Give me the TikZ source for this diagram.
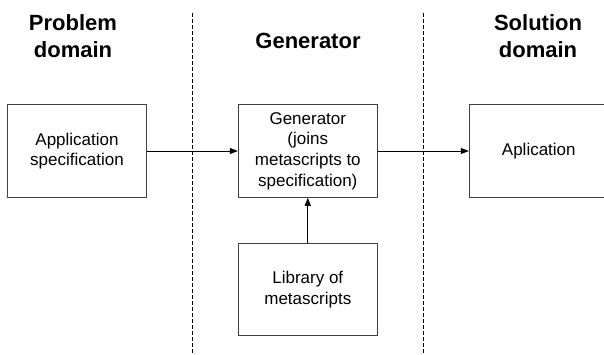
\documentclass[tikz,border=0pt]{standalone}
\usepackage{fontspec}
\setmainfont{Liberation Sans}
\usetikzlibrary{arrows.meta}

\begin{document}
\begin{tikzpicture}[x=1pt, y=-1pt,
	box/.style={draw=black!75, line width=1pt, minimum width=139pt, minimum height=92.6pt,
		align=center, inner sep=0pt, font=\fontsize{17}{20.6}\selectfont},
	heading/.style={align=center, inner sep=0pt, font=\fontsize{22}{27.3}\selectfont\bfseries},
	flow/.style={line width=0.8pt, -{Triangle[length=8pt, width=6pt]}},
	border/.style={line width=0.8pt, dash pattern=on 4pt off 2pt}]
					% Fix the size of the picture
					\clip (0,0) rectangle (604,354);
					
					% Draw the headings of the three columns
					\node[heading] (problem head) at (73,36) {Problem\\domain};
					\node[heading, anchor=base] (generator head) at (308,48) {Generator};
					\node[heading] (solution head) at (538,36) {Solution\\domain};
					
					% Draw dashed borders between the columns
					\foreach \x in {192.7, 423.3}
					\draw[border] (\x,13) -- (\x,354);
					
					% Draw the boxes
					\node[box] (spec) at (77,151) {Application\\specification};
					\node[box] (gen) at (307.8,151) {Generator\\(joins\\metascripts to\\specification)};
					\node[box] (app) at (538.8,151) {Aplication};
					\node[box] (lib) at (307.8,289.5) {Library of\\metascripts};
					
					% Draw arrows between the boxes
					\draw[flow] (spec) -- (gen);
					\draw[flow] (gen) -- (app);
					\draw[flow] (lib) -- (gen);
\end{tikzpicture}
\end{document}
